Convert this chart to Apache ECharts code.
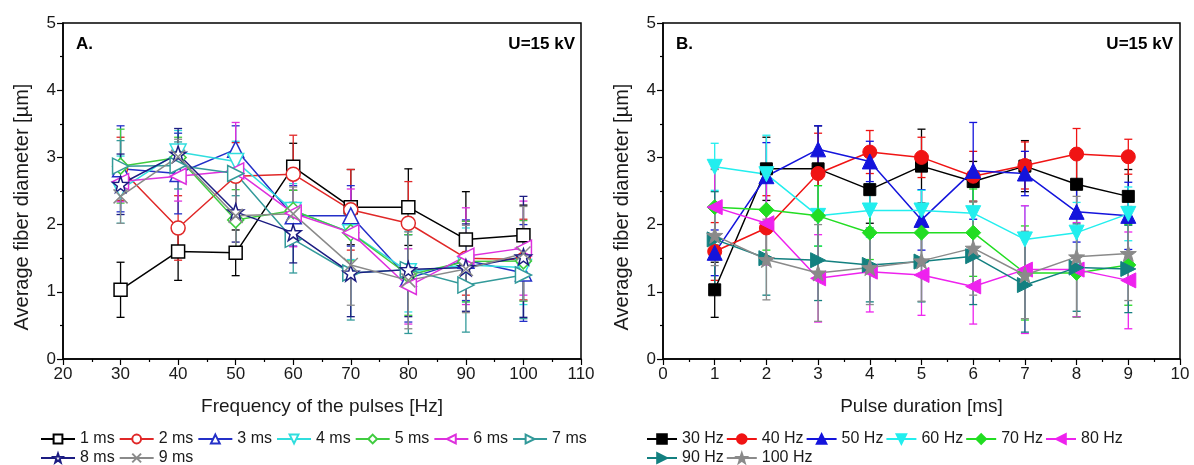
<!DOCTYPE html>
<html>
<head>
<meta charset="utf-8">
<script src="https://cdn.jsdelivr.net/npm/echarts/dist/echarts.min.js"></script>
<style>
  html, body { margin: 0; padding: 0; background: #ffffff; }
  #chart { width: 1194px; height: 465px; }
</style>
</head>
<body>
<div id="chart"></div>
<script>
// Pulse settings
const frequencies = [30, 40, 50, 60, 70, 80, 90, 100];   // Hz
const durations = [1, 2, 3, 4, 5, 6, 7, 8, 9];          // ms

// Mean fiber diameter [µm] per frequency, for durations 1..9 ms
const mean30  = [1.03, 2.83, 2.83, 2.52, 2.87, 2.64, 2.87, 2.60, 2.42];
const mean40  = [1.60, 1.95, 2.76, 3.08, 3.00, 2.72, 2.88, 3.05, 3.01];
const mean50  = [1.58, 2.72, 3.12, 2.94, 2.07, 2.80, 2.76, 2.19, 2.13];
const mean60  = [2.86, 2.75, 2.13, 2.21, 2.21, 2.17, 1.78, 1.88, 2.16];
const mean70  = [2.26, 2.22, 2.13, 1.88, 1.88, 1.88, 1.28, 1.28, 1.40];
const mean80  = [2.26, 2.02, 1.20, 1.30, 1.25, 1.08, 1.33, 1.33, 1.17];
const mean90  = [1.78, 1.50, 1.47, 1.40, 1.45, 1.53, 1.10, 1.36, 1.34];
const mean100 = [1.84, 1.48, 1.28, 1.36, 1.46, 1.65, 1.25, 1.52, 1.57];

// Standard deviation [µm] per frequency, for durations 1..9 ms
const sd30  = [0.41, 0.47, 0.64, 0.50, 0.55, 0.30, 0.38, 0.45, 0.40];
const sd40  = [0.43, 0.48, 0.60, 0.32, 0.30, 0.37, 0.35, 0.38, 0.26];
const sd50  = [0.34, 0.50, 0.35, 0.30, 0.45, 0.72, 0.33, 0.45, 0.50];
const sd60  = [0.35, 0.58, 0.45, 0.40, 0.30, 0.50, 0.50, 0.45, 0.40];
const sd70  = [0.56, 0.60, 0.45, 0.40, 0.42, 0.65, 0.70, 0.65, 0.60];
const sd80  = [0.57, 0.62, 0.65, 0.60, 0.60, 0.56, 0.95, 0.70, 0.72];
const sd90  = [0.71, 0.55, 0.60, 0.55, 0.60, 0.72, 0.70, 0.65, 0.65];
const sd100 = [0.45, 0.60, 0.72, 0.55, 0.60, 0.70, 0.65, 0.90, 0.70];

const meanRows = [mean30, mean40, mean50, mean60, mean70, mean80, mean90, mean100];
const sdRows = [sd30, sd40, sd50, sd60, sd70, sd80, sd90, sd100];

// Styles for panel A (one series per duration, open markers)
const durColors = ['#000000', '#e02828', '#2430c8', '#30dede', '#40cc40', '#dd30dd', '#339a9a', '#1c1c82', '#8a8a8a'];
const STAR = 'path://M0,-10L2.35,-3.24L9.51,-3.09L3.8,1.24L5.88,8.09L0,4L-5.88,8.09L-3.8,1.24L-9.51,-3.09L-2.35,-3.24Z';
const CROSS = 'path://M-5,-5L5,5M5,-5L-5,5';
const durSymbols = [
  { s: 'rect', r: 0, size: 13 },
  { s: 'circle', r: 0, size: 14 },
  { s: 'triangle', r: 0, size: 16 },
  { s: 'triangle', r: 180, size: 16 },
  { s: 'diamond', r: 0, size: 16 },
  { s: 'triangle', r: 90, size: 16 },
  { s: 'triangle', r: -90, size: 16 },
  { s: STAR, r: 0, size: 16 },
  { s: CROSS, r: 0, size: 14 }
];

// Styles for panel B (one series per frequency, filled markers)
const freqColors = ['#000000', '#f01414', '#1414dc', '#22eeee', '#22dd22', '#ee22ee', '#138080', '#8a8a8a'];
const freqSymbols = [
  { s: 'rect', r: 0, size: 12 },
  { s: 'circle', r: 0, size: 14 },
  { s: 'triangle', r: 0, size: 15 },
  { s: 'triangle', r: 180, size: 15 },
  { s: 'diamond', r: 0, size: 15 },
  { s: 'triangle', r: 90, size: 15 },
  { s: 'triangle', r: -90, size: 15 },
  { s: STAR, r: 0, size: 16 }
];

const FONT = '"Liberation Sans", Arial, sans-serif';
const INK = '#1a1a1a';
const Y_TITLE = 'Average fiber diameter [µm]';

function errorBars(params, api) {
  const x = api.value(0), v = api.value(1), e = api.value(2);
  const hi = api.coord([x, v + e]);
  const lo = api.coord([x, v - e]);
  const w = 4;
  const style = { stroke: api.visual('color'), lineWidth: 1.3, fill: null };
  return {
    type: 'group',
    children: [
      { type: 'line', shape: { x1: hi[0], y1: hi[1], x2: lo[0], y2: lo[1] }, style },
      { type: 'line', shape: { x1: hi[0] - w, y1: hi[1], x2: hi[0] + w, y2: hi[1] }, style },
      { type: 'line', shape: { x1: lo[0] - w, y1: lo[1], x2: lo[0] + w, y2: lo[1] }, style }
    ]
  };
}

const series = [];

// Panel A: diameter vs frequency, one line per pulse duration
durations.forEach((d, j) => {
  const name = d + ' ms';
  const pts = frequencies.map((f, i) => [f, meanRows[i][j]]);
  const errs = frequencies.map((f, i) => [f, meanRows[i][j], sdRows[i][j]]);
  series.push({
    type: 'custom', name: name + ' sd', xAxisIndex: 0, yAxisIndex: 0,
    renderItem: errorBars, data: errs, z: 2,
    itemStyle: { color: durColors[j] }, silent: true
  });
  series.push({
    type: 'line', name, xAxisIndex: 0, yAxisIndex: 0, data: pts, z: 3,
    symbol: durSymbols[j].s, symbolRotate: durSymbols[j].r, symbolSize: durSymbols[j].size,
    showAllSymbol: true, animation: false,
    lineStyle: { color: durColors[j], width: 1.5 },
    itemStyle: { color: '#ffffff', borderColor: durColors[j], borderWidth: 1.5 }
  });
});

// Panel B: diameter vs pulse duration, one line per frequency
frequencies.forEach((f, i) => {
  const name = f + ' Hz';
  const pts = durations.map((d, j) => [d, meanRows[i][j]]);
  const errs = durations.map((d, j) => [d, meanRows[i][j], sdRows[i][j]]);
  series.push({
    type: 'custom', name: name + ' sd', xAxisIndex: 1, yAxisIndex: 1,
    renderItem: errorBars, data: errs, z: 2,
    itemStyle: { color: freqColors[i] }, silent: true
  });
  series.push({
    type: 'line', name, xAxisIndex: 1, yAxisIndex: 1, data: pts, z: 3,
    symbol: freqSymbols[i].s, symbolRotate: freqSymbols[i].r, symbolSize: freqSymbols[i].size,
    showAllSymbol: true, animation: false,
    lineStyle: { color: freqColors[i], width: 1.5 },
    itemStyle: { color: freqColors[i], borderColor: freqColors[i], borderWidth: 1 }
  });
});

function valueAxis(gridIndex, min, max, interval, name, nameGap) {
  return {
    type: 'value', gridIndex, min, max, interval,
    name, nameLocation: 'middle', nameGap,
    nameTextStyle: { fontFamily: FONT, fontSize: 19, color: INK },
    axisLine: { show: true, onZero: false, lineStyle: { color: '#000', width: 1.5 } },
    axisTick: { show: true, inside: false, length: 6, lineStyle: { color: '#000', width: 1.2 } },
    minorTick: { show: true, splitNumber: 2, length: 3, lineStyle: { color: '#000', width: 1.2 } },
    axisLabel: { fontFamily: FONT, fontSize: 17, color: INK, margin: 7, showMinLabel: true, showMaxLabel: true },
    splitLine: { show: false },
    minorSplitLine: { show: false }
  };
}

const legendCommon = {
  orient: 'horizontal', itemWidth: 34, itemHeight: 11, itemGap: 4,
  textStyle: { fontFamily: FONT, fontSize: 16, color: INK },
  symbolRotate: 'inherit', selectedMode: false, padding: 0
};

const corner = [
  { text: 'A.', x: 76, y: 46, align: 'left' },
  { text: 'U=15 kV', x: 575, y: 46, align: 'right' },
  { text: 'B.', x: 676, y: 46, align: 'left' },
  { text: 'U=15 kV', x: 1173, y: 46, align: 'right' }
];

const graphic = corner.map(l => ({
  type: 'text', left: l.align === 'left' ? l.x : undefined, right: l.align === 'right' ? 1194 - l.x : undefined, top: l.y - 10,
  style: { text: l.text, fontFamily: FONT, fontSize: 17, fontWeight: 'bold', fill: '#000' }
}));
// Vertical axis titles for both panels
[22, 622].forEach(cx => graphic.push({
  type: 'text', x: cx, y: 207, rotation: Math.PI / 2,
  style: { text: Y_TITLE, fontFamily: FONT, fontSize: 20, fill: INK, align: 'center', verticalAlign: 'middle' }
}));

const option = {
  backgroundColor: '#ffffff',
  animation: false,
  grid: [
    { left: 63, top: 23, width: 518, height: 336, show: true, borderColor: '#000', borderWidth: 1.5, backgroundColor: 'transparent' },
    { left: 663, top: 23, width: 517, height: 336, show: true, borderColor: '#000', borderWidth: 1.5, backgroundColor: 'transparent' }
  ],
  xAxis: [
    valueAxis(0, 20, 110, 10, 'Frequency of the pulses [Hz]', 38),
    valueAxis(1, 0, 10, 1, 'Pulse duration [ms]', 38)
  ],
  yAxis: [
    valueAxis(0, 0, 5, 1, '', 30),
    valueAxis(1, 0, 5, 1, '', 30)
  ],
  legend: [
    Object.assign({}, legendCommon, { left: 40, top: 431, data: ['1 ms', '2 ms', '3 ms', '4 ms', '5 ms', '6 ms', '7 ms'] }),
    Object.assign({}, legendCommon, { left: 40, top: 450, data: ['8 ms', '9 ms'] }),
    Object.assign({}, legendCommon, { left: 646, top: 431, itemWidth: 30, itemHeight: 12, itemGap: 2, data: ['30 Hz', '40 Hz', '50 Hz', '60 Hz', '70 Hz', '80 Hz'] }),
    Object.assign({}, legendCommon, { left: 646, top: 450, itemWidth: 30, itemHeight: 12, itemGap: 2, data: ['90 Hz', '100 Hz'] })
  ],
  graphic,
  series
};

const chart = echarts.init(document.getElementById('chart'), null, { renderer: 'canvas' });
chart.setOption(option);
</script>
</body>
</html>
